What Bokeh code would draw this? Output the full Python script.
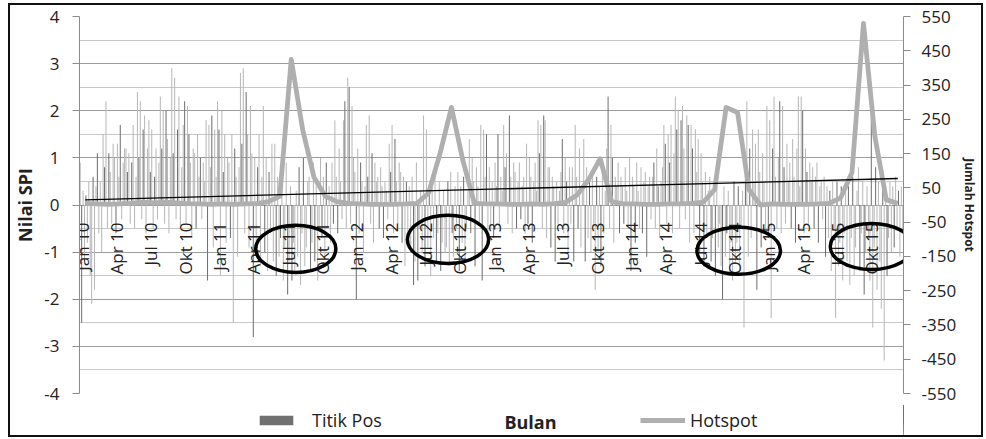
import numpy as np
from bokeh.plotting import figure
from bokeh.layouts import column
from bokeh.models import (Range1d, LinearAxis, FixedTicker, Label, Legend, LegendItem,
                          ColumnDataSource)
from bokeh.core.properties import value
from bokeh.embed import file_html
from bokeh.resources import INLINE

# ---------------- data ----------------
tick_labels = ["Jan 10", "Apr 10", "Jul 10", "Okt 10", "Jan 11", "Apr 11", "Jul 11", "Okt 11",
               "Jan 12", "Apr 12", "Jul 12", "Okt 12", "Jan 13", "Apr 13", "Jul 13", "Okt 13",
               "Jan 14", "Apr 14", "Jul 14", "Okt 14", "Jan 15", "Apr 15", "Jul 15", "Okt 15"]
spi_ticks = [-4, -3, -2, -1, 0, 1, 2, 3, 4]
hot_ticks = [-550, -450, -350, -250, -150, -50, 50, 150, 250, 350, 450, 550]

# SPI per month (rows) for 8 observation posts (Titik Pos)
spi_2010 = [
    [0.9, -2.5, 0.3, -1.2, 0.2, -0.8, 0.5, -1.5],
    [-2.1, 0.6, -1.8, 0.4, 1.1, -0.6, 0.5, -1.0],
    [1.5, 0.8, 2.2, -0.5, 1.1, 0.7, -0.4, 1.3],
    [1.0, -0.6, 1.3, 0.6, 1.7, -0.3, 0.9, 1.2],
    [1.2, 0.7, 1.1, -0.4, 0.9, 1.7, -0.5, 0.6],
    [2.4, 1.0, 2.2, -0.3, 1.6, 1.9, -0.6, 1.2],
    [1.8, 0.7, 1.6, -0.5, 0.6, 1.2, -0.3, 0.9],
    [2.3, 1.2, 2.0, -0.4, 2.0, 1.4, -0.6, 1.0],
    [2.9, 1.1, 2.7, -0.3, 1.6, 2.3, -0.5, 0.8],
    [1.7, 2.2, -0.4, 2.1, 1.5, 0.9, -0.7, 1.2],
    [1.1, -0.5, 1.5, 0.6, 1.0, -0.3, 0.9, 0.5],
    [1.8, -1.6, 1.7, 0.8, 1.9, -0.9, 1.6, 0.6],
]
spi_2011 = [
    [2.2, 1.6, -1.5, 2.0, 0.7, 1.5, -0.8, 1.0],
    [0.9, -0.7, 1.5, -2.5, 1.2, 0.6, -1.1, 0.8],
    [2.8, 1.3, 2.9, -0.6, 2.4, 1.5, -0.9, 2.1],
    [1.1, -2.8, 1.0, -0.9, 0.8, 1.5, -1.3, 0.6],
    [2.1, -1.0, 1.0, -1.4, 0.7, -0.6, 1.3, -1.2],
    [1.3, -1.5, 0.6, -1.1, -0.7, 0.4, -1.6, -0.9],
    [0.9, -1.9, -1.2, 0.4, -1.6, -0.8, -1.4, 0.3],
    [-1.1, 0.8, -1.7, -0.6, 1.0, -1.3, -0.9, 0.5],
    [0.6, -1.4, -0.8, 0.9, -1.2, 0.4, -1.6, -0.5],
    [1.0, -0.7, 0.6, -1.1, 0.9, -0.5, 0.4, -0.8],
    [0.9, -0.4, 1.8, 0.6, -0.6, 1.2, 0.5, -0.3],
    [1.8, 2.2, -0.5, 2.7, 2.5, -0.4, 2.1, 1.0],
]
spi_2012 = [
    [0.7, -2.0, 1.2, -0.6, 0.9, 0.5, -1.0, 0.4],
    [1.7, 0.6, 1.9, -0.4, 1.1, -0.8, 0.9, 0.5],
    [0.6, -0.5, 0.8, 0.4, -0.7, 0.5, 0.3, -0.3],
    [1.3, 0.7, 1.7, -0.6, 1.4, 0.5, -0.4, 0.9],
    [0.7, -0.8, 0.6, -1.3, 0.5, -0.6, 0.4, -1.0],
    [0.6, -1.7, -1.2, 0.9, -1.6, -0.5, 0.3, -1.0],
    [1.9, -1.3, 1.6, -0.9, 0.4, -1.5, 0.6, -0.7],
    [0.8, -1.2, -0.6, 0.5, -1.4, -0.8, 0.3, -1.0],
    [-0.9, 0.5, -1.3, 0.7, -0.6, -1.1, 0.4, -0.5],
    [0.7, -1.4, 0.4, -0.8, 0.6, -1.2, -0.5, 0.3],
    [1.4, -0.6, 1.0, 0.5, -1.3, 0.8, 0.4, -0.4],
    [1.7, -1.6, 1.6, 0.6, 1.5, -0.9, 0.8, -0.5],
]
spi_2013 = [
    [0.5, -0.7, 0.9, 0.4, 1.5, -0.5, 0.6, 0.3],
    [1.7, 0.8, 1.1, -0.4, 1.9, 0.6, -0.6, 0.9],
    [0.7, -0.5, 0.5, 0.9, -0.3, 0.4, 0.6, -0.6],
    [1.3, -0.4, 1.0, 0.6, -0.8, 0.5, 0.9, 0.3],
    [1.8, 1.1, 1.7, -0.5, 1.9, 1.8, -0.7, 0.8],
    [0.8, -0.9, 0.6, 0.4, -1.2, 0.5, -0.4, 0.3],
    [0.7, 1.4, -0.6, 1.0, 0.5, -1.0, 0.8, -0.4],
    [0.8, -1.2, 1.7, 0.6, -0.5, 1.2, -0.9, 0.4],
    [1.4, -1.2, 0.8, -0.7, 0.5, -1.0, 0.6, -0.4],
    [-1.8, 0.6, -1.0, 0.4, -1.3, 0.7, -0.6, 0.3],
    [1.2, 2.3, -0.5, 1.7, 1.0, -0.8, 0.6, 0.4],
    [0.9, -0.6, 0.6, 0.4, -0.4, 0.8, 0.3, -0.5],
]
spi_2014 = [
    [1.0, -1.4, 0.6, 0.4, -0.8, 0.9, 0.3, -0.5],
    [0.8, -0.6, 0.5, 0.7, -1.1, 0.4, 0.6, -0.3],
    [0.6, 0.9, -0.5, 1.2, 0.4, -0.7, 0.5, 0.8],
    [1.7, 1.3, -0.4, 1.5, 0.9, 1.7, -0.6, 1.1],
    [2.3, 1.6, 2.0, -0.5, 1.8, 2.1, 1.2, -0.3],
    [1.9, 1.7, -0.8, 1.7, 1.2, -0.6, 1.6, 0.7],
    [1.4, -1.0, 1.1, 0.5, -1.3, 0.7, -0.7, 0.3],
    [0.6, -1.2, -0.7, 0.4, -1.5, 0.5, -0.9, -0.4],
    [-1.3, -2.0, 0.4, -1.1, -0.6, 0.3, -1.5, -0.8],
    [-1.6, 0.5, -1.2, -0.8, 0.4, -1.4, -0.5, 0.3],
    [-2.6, 0.8, 2.2, -1.1, 1.2, -0.7, 1.6, 0.5],
    [1.3, -1.8, 1.6, 0.7, -0.9, 1.1, 0.5, -0.5],
]
spi_2015 = [
    [2.1, -0.7, 1.8, -2.4, 1.2, 2.3, 0.6, -0.5],
    [1.0, 2.2, -0.6, 2.1, 0.8, -0.4, 1.3, 0.5],
    [0.9, -0.5, 1.4, 0.6, -0.8, 1.2, 2.3, 0.4],
    [2.3, 2.0, -0.6, 1.2, 0.7, -0.4, 0.9, 0.5],
    [0.8, -0.5, 0.6, 0.9, -0.8, 0.4, 0.5, -0.3],
    [0.6, -1.1, 0.4, -0.7, 0.3, -1.4, 0.5, -0.5],
    [-2.4, 0.5, -1.3, -0.8, 0.4, -1.6, -0.6, 0.3],
    [-1.2, 0.4, -1.7, -0.7, 0.6, -1.5, -0.9, 0.3],
    [0.8, -1.4, -0.6, 0.5, -1.9, -1.0, 0.4, -0.7],
    [-1.6, 2.1, -2.6, -0.9, 0.8, -1.8, 0.5, -1.2],
    [-2.2, 0.6, -3.3, 0.4, -1.5, -0.7, 0.5, -1.0],
    [0.4, -0.9, 0.6, -0.5, 0.3, -1.1, 0.4, -0.6],
]

# monthly hotspot counts
hotspot_2010 = [5, 3, 2, 3, 5, 8, 6, 8, 6, 4, 3, 2]
hotspot_2011 = [3, 2, 3, 4, 10, 25, 425, 220, 80, 25, 10, 5]
hotspot_2012 = [3, 2, 2, 2, 3, 5, 35, 150, 285, 130, 5, 3]
hotspot_2013 = [3, 2, 2, 3, 2, 4, 8, 30, 75, 135, 10, 3]
hotspot_2014 = [3, 2, 2, 3, 3, 5, 8, 45, 285, 270, 45, 0]
hotspot_2015 = [3, 2, 2, 2, 3, 5, 20, 95, 530, 200, 15, 5]

# circled periods (month position, SPI level, span in months, span in SPI)
circle_month = [18.4, 31.7, 57.1, 68.7]
circle_level = [-0.93, -0.73, -0.97, -0.88]
circle_span_m = [7.0, 7.1, 7.3, 7.2]
circle_span_v = [1.0, 1.02, 1.0, 0.98]

# ---------------- build ----------------
FONT = "Open Sans"
TXT = "#222222"
AX = "#8c8c8c"
DARK = "#707070"
LIGHT = "#b8b8b8"
HOT = "#afafaf"

spi_rows = spi_2010 + spi_2011 + spi_2012 + spi_2013 + spi_2014 + spi_2015
hotspot = hotspot_2010 + hotspot_2011 + hotspot_2012 + hotspot_2013 + hotspot_2014 + hotspot_2015
months = list(range(len(hotspot)))
n_st = len(spi_rows[0])

light = dict(x=[], top=[])
dark = dict(x=[], top=[])
for m, row in enumerate(spi_rows):
    for s, v in enumerate(row):
        d = dark if s in (1, 4) else light
        d["x"].append(m - 0.5 + (s + 0.5) / n_st)
        d["top"].append(v)
light_src = ColumnDataSource(light)
dark_src = ColumnDataSource(dark)

p = figure(width=971, height=400, output_backend="svg", toolbar_location=None,
           x_range=Range1d(-0.5, len(hotspot) - 0.5),
           y_range=Range1d(spi_ticks[0], spi_ticks[-1]),
           x_axis_location=None,
           min_border_left=64, min_border_right=74, min_border_top=11, min_border_bottom=12)
p.outline_line_color = None
p.extra_y_ranges = {"hot": Range1d(hot_ticks[0], hot_ticks[-1])}

p.xgrid.visible = False
ya = p.yaxis[0]
ya.ticker = FixedTicker(ticks=spi_ticks, minor_ticks=[k + 0.5 for k in spi_ticks[:-1]])
ya.bounds = (spi_ticks[0], spi_ticks[-1])
ya.major_label_overrides = {t: str(t) for t in spi_ticks}
p.ygrid.grid_line_color = "#9c9c9c"
p.ygrid.minor_grid_line_color = "#c9c9c9"
ya.axis_line_color = AX
ya.major_tick_line_color = AX
ya.major_tick_out = 7
ya.major_tick_in = 0
ya.minor_tick_out = 0
ya.minor_tick_in = 0
ya.major_label_text_font = FONT
ya.major_label_text_font_size = "17px"
ya.major_label_text_color = TXT
ya.major_label_standoff = 13
ya.axis_label = "Nilai SPI"
ya.axis_label_text_font = FONT
ya.axis_label_text_font_style = "bold"
ya.axis_label_text_font_size = "18px"
ya.axis_label_text_color = TXT
ya.axis_label_standoff = 4

ra = LinearAxis(y_range_name="hot", ticker=FixedTicker(ticks=hot_ticks))
ra.bounds = (hot_ticks[0], hot_ticks[-1])
ra.major_label_overrides = {t: str(t) for t in hot_ticks}
ra.axis_line_color = AX
ra.major_tick_line_color = AX
ra.major_tick_out = 7
ra.major_tick_in = 0
ra.minor_tick_out = 0
ra.minor_tick_in = 0
ra.major_label_text_font = FONT
ra.major_label_text_font_size = "17px"
ra.major_label_text_color = TXT
ra.major_label_standoff = 11
ra.axis_label = "Jumlah Hotspot"
ra.axis_label_text_font = FONT
ra.axis_label_text_font_style = "bold"
ra.axis_label_text_font_size = "12px"
ra.axis_label_text_color = TXT
ra.axis_label_standoff = 2
p.add_layout(ra, "right")

# bars (Titik Pos)
p.vbar(x="x", top="top", bottom=0, width=0.09, fill_color=LIGHT, line_color=None, source=light_src)
p.vbar(x="x", top="top", bottom=0, width=0.09, fill_color=DARK, line_color=None, source=dark_src)

# hotspot line on secondary axis
p.line(months, hotspot, y_range_name="hot", line_color=HOT, line_width=4.8, line_join="round")

# linear trend of hotspot
coef = np.polyfit(months, hotspot, 1)
p.line([months[0], months[-1]], list(np.polyval(coef, [months[0], months[-1]])),
       y_range_name="hot", line_color="black", line_width=1.3)

# month labels (vertical, just below zero line)
tick_pos = list(range(0, len(hotspot), 3))
p.text(x=tick_pos, y=[-0.37] * len(tick_pos), text=tick_labels, angle=np.pi / 2,
       x_offset=-3, text_align="right", text_baseline="middle", text_font=value(FONT),
       text_font_size="17px", text_color=TXT)

# circled periods
p.ellipse(x=circle_month, y=circle_level, width=circle_span_m, height=circle_span_v,
          fill_color=None, line_color="black", line_width=3.5)

# ---------- legend strip (separate figure below the chart; frame aligned with chart) ----------
q = figure(width=971, height=30, output_backend="svg", toolbar_location=None,
           x_range=Range1d(-2, -1), y_range=Range1d(-2, -1),
           x_axis_location=None, y_axis_location=None,
           min_border_left=0, min_border_right=0, min_border_top=0, min_border_bottom=0)
q.outline_line_color = None
q.xgrid.visible = False
q.ygrid.visible = False
# proxies of the two series (outside this strip's view; used only for legend swatches)
bar_proxy = q.vbar(x="x", top="top", width=0.5, fill_color=DARK, line_color=None, source=dark_src)
hot_proxy = q.line(months, hotspot, line_color=HOT, line_width=4.8)
common = dict(orientation="horizontal", padding=0, margin=0, border_line_color=None,
              background_fill_alpha=0, label_text_font=FONT, label_text_font_size="18px",
              label_text_color=TXT, label_height=22)
leg1 = Legend(items=[LegendItem(label="Titik Pos", renderers=[bar_proxy])], location=(176, 3),
              glyph_width=42, glyph_height=12, label_standoff=15, **common)
leg2 = Legend(items=[LegendItem(label="Hotspot", renderers=[hot_proxy])], location=(561, 3),
              glyph_width=45, glyph_height=12, label_standoff=5, **common)
q.add_layout(leg1)
q.add_layout(leg2)
q.add_layout(Label(x=451, y=14, x_units="screen", y_units="screen", text="Bulan",
                   text_align="center", text_baseline="middle", text_font=FONT,
                   text_font_style="bold", text_font_size="18px", text_color=TXT))

root = column(p, q, spacing=0,
              styles={"margin-left": "10px", "margin-top": "5px",
                      "outline": "2px solid #111111"})

open("out.html", "w").write(file_html(root, INLINE))
